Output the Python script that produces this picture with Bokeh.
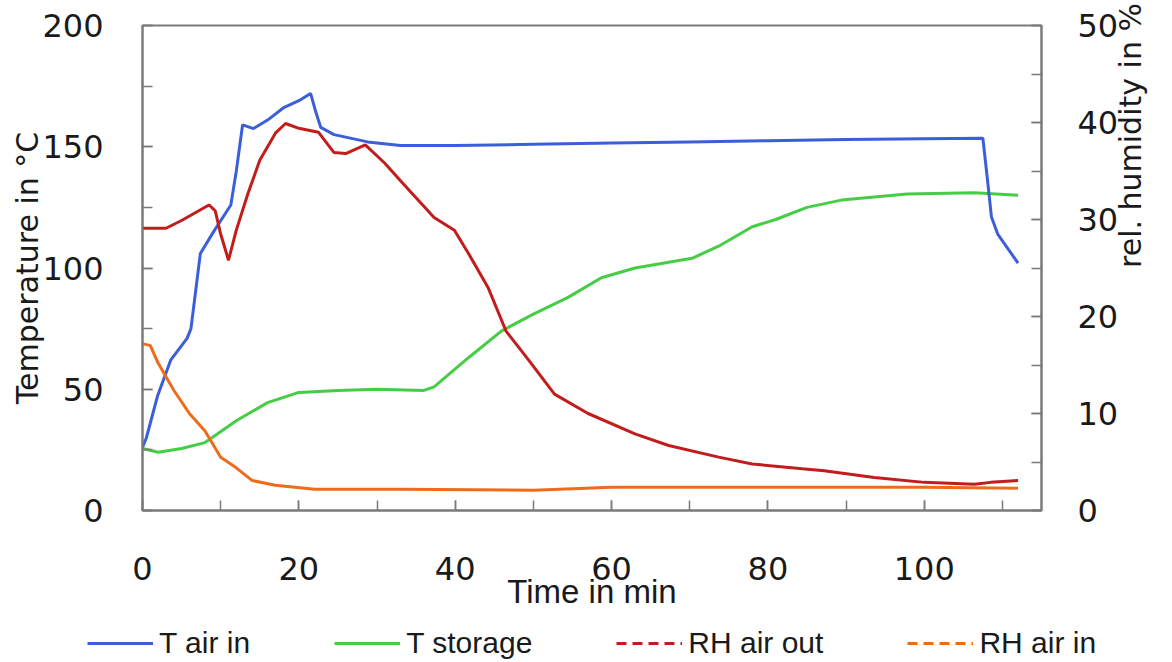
import math
from bokeh.plotting import figure
from bokeh.layouts import column, row
from bokeh.models import (Range1d, LinearAxis, SingleIntervalTicker, FixedTicker, Legend, LegendItem)
from bokeh.embed import file_html
from bokeh.resources import INLINE

# ---------------- data ----------------
t_air_in_time = [0, 0.5, 1.9, 3.6, 5.7, 6.2, 7.4, 9.1, 11.3, 12.0, 12.8, 14.2, 16, 18, 20, 21.5,
                 22.2, 22.8, 24.5, 28.8, 33, 40, 50, 60, 70, 80, 90, 100, 107.5, 108, 108.6, 109.4, 112]
t_air_in = [26, 30, 47, 62, 71, 75, 106, 115, 126, 140, 159, 157.5, 161, 166, 169, 172,
            164, 158, 155, 152, 150.5, 150.5, 151, 151.5, 152, 152.5, 153, 153.3, 153.5, 139, 121, 114, 102]

t_storage_time = [0, 2, 5, 8, 12, 16, 20, 25, 30, 36, 37.3, 41.7, 45.9, 50, 54.5, 58.7, 63, 70.3,
                  73.7, 78, 81, 85, 89.4, 97.8, 106.4, 112]
t_storage = [25.6, 24, 25.6, 28, 37, 44.5, 48.7, 49.5, 50, 49.5, 51, 63, 74, 81, 88, 96, 100, 104,
             109, 117, 120, 125, 128, 130.5, 131, 130]

rh_out_time = [0, 3, 5, 8.5, 9.3, 10, 11, 12, 13.5, 15, 17, 18.3, 20, 22.5, 24.5, 26, 28.5, 31, 33,
               37.3, 39.9, 41.7, 44.2, 46.5, 49.4, 52.7, 57, 63, 67.3, 73.7, 78, 84.4, 87.2, 93.6,
               100, 106.4, 108.5, 112]
rh_out = [29.1, 29.1, 29.9, 31.5, 30.9, 28.5, 25.8, 28.9, 32.7, 36.1, 38.9, 39.9, 39.4, 39.0, 36.9,
          36.8, 37.7, 35.8, 34.0, 30.2, 28.9, 26.5, 23.0, 18.5, 15.5, 12.0, 10.0, 7.9, 6.7, 5.5, 4.8,
          4.3, 4.1, 3.4, 2.9, 2.7, 2.9, 3.1]

rh_in_time = [0, 1, 2, 4, 6, 8, 10, 12, 14, 17, 22, 33, 50, 60, 80, 100, 112]
rh_in = [17.2, 17.0, 15.2, 12.4, 10.0, 8.2, 5.5, 4.4, 3.1, 2.6, 2.2, 2.2, 2.1, 2.4, 2.4, 2.4, 2.3]

series_names = ["T air in", "T storage", "RH air out", "RH air in"]
x_label = "Time in min"
y_label_left = "Temperature in °C"
y_label_right = "rel. humidity in %"

# ---------------- styles ----------------
C_BLUE = "#3a5fd9"
C_GREEN = "#46cd46"
C_RED = "#c31c1c"
C_ORANGE = "#ef6b1c"
AX = "#7a7a7a"
TICK_FONT = "DejaVu Sans"
TXT_FONT = "Liberation Sans"
TXT_COLOR = "#1a1a1a"
LW = 3

p = figure(width=1172, height=620, output_backend="svg", toolbar_location=None,
           x_range=Range1d(0, 115), y_range=Range1d(0, 200),
           min_border_left=142, min_border_right=131, min_border_top=25, min_border_bottom=110)
p.extra_y_ranges = {"rh": Range1d(0, 50)}
p.xgrid.visible = False
p.ygrid.visible = False
p.outline_line_color = AX
p.outline_line_width = 2
p.background_fill_color = "white"
p.border_fill_color = "white"

def style_axis(ax, standoff):
    ax.axis_line_color = AX
    ax.axis_line_width = 2
    ax.major_tick_line_color = AX
    ax.minor_tick_line_color = AX
    ax.major_tick_line_width = 1.5
    ax.minor_tick_line_width = 1.5
    ax.major_tick_in = 10
    ax.major_tick_out = 0
    ax.minor_tick_in = 10
    ax.minor_tick_out = 0
    ax.major_label_text_font = TICK_FONT
    ax.major_label_text_font_size = "32px"
    ax.major_label_text_color = TXT_COLOR
    ax.major_label_standoff = standoff
    ax.axis_label_text_color = TXT_COLOR
    ax.axis_label_text_font_style = "normal"

xa = p.xaxis[0]
xa.ticker = SingleIntervalTicker(interval=20, num_minor_ticks=2)
style_axis(xa, 46)
xa.axis_label = x_label
xa.axis_label_text_font = TXT_FONT
xa.axis_label_text_font_size = "33px"
xa.axis_label_standoff = -10

ya = p.yaxis[0]
ya.ticker = SingleIntervalTicker(interval=50, num_minor_ticks=2)
style_axis(ya, 39)
ya.axis_label = y_label_left
ya.axis_label_text_font = TICK_FONT
ya.axis_label_text_font_size = "30px"
ya.axis_label_standoff = -6

# right axis with ticks and numbers
ra = LinearAxis(y_range_name="rh", ticker=SingleIntervalTicker(interval=10, num_minor_ticks=2))
style_axis(ra, 36)
p.add_layout(ra, "right")

# label-only axis on the right (reads bottom to top, centred on the axis)
la = LinearAxis(y_range_name="rh", ticker=FixedTicker(ticks=[]), bounds=(0, 24.2))
la.axis_line_color = None
la.major_tick_line_color = None
la.minor_tick_line_color = None
la.major_tick_in = 0
la.major_tick_out = 0
la.minor_tick_in = 0
la.minor_tick_out = 0
la.major_label_standoff = 0
la.axis_label = y_label_right
la.axis_label_text_font = TICK_FONT
la.axis_label_text_font_size = "30px"
la.axis_label_text_color = TXT_COLOR
la.axis_label_text_font_style = "normal"
la.axis_label_standoff = 9
try:
    la.axis_label_orientation = math.pi / 2
except Exception:
    pass
p.add_layout(la, "right")

p.line(t_storage_time, t_storage, color=C_GREEN, line_width=LW)
p.line(t_air_in_time, t_air_in, color=C_BLUE, line_width=LW)
p.line(rh_in_time, rh_in, y_range_name="rh", color=C_ORANGE, line_width=LW)
p.line(rh_out_time, rh_out, y_range_name="rh", color=C_RED, line_width=LW)

# ---------------- legend strip below the chart ----------------
lg = figure(width=1172, height=42, output_backend="svg", toolbar_location=None,
            x_axis_location=None, y_axis_location=None,
            x_range=Range1d(-1000, -999), y_range=Range1d(-1000, -999),
            min_border_left=0, min_border_right=0, min_border_top=0, min_border_bottom=0)
lg.xgrid.visible = False
lg.ygrid.visible = False
lg.outline_line_color = None
lg.background_fill_color = "white"
lg.border_fill_color = "white"
k_blue = lg.line(t_air_in_time, t_air_in, color=C_BLUE, line_width=LW)
k_green = lg.line(t_storage_time, t_storage, color=C_GREEN, line_width=LW)
k_red = lg.line(rh_out_time, rh_out, color=C_RED, line_width=LW, line_dash="10 6")
k_orange = lg.line(rh_in_time, rh_in, color=C_ORANGE, line_width=LW, line_dash="10 6")

legend = Legend(items=[LegendItem(label=n, renderers=[r]) for n, r in
                       zip(series_names, [k_blue, k_green, k_red, k_orange])],
                location=(87, 2), orientation="horizontal", border_line_color=None,
                background_fill_alpha=0, padding=0, margin=0, spacing=84,
                glyph_width=66, glyph_height=30, label_standoff=6,
                label_text_font=TXT_FONT, label_text_font_size="30px",
                label_text_color=TXT_COLOR, label_height=30)
lg.add_layout(legend)

open("out.html", "w").write(file_html(column(p, row(lg, spacing=0), spacing=0), INLINE))
